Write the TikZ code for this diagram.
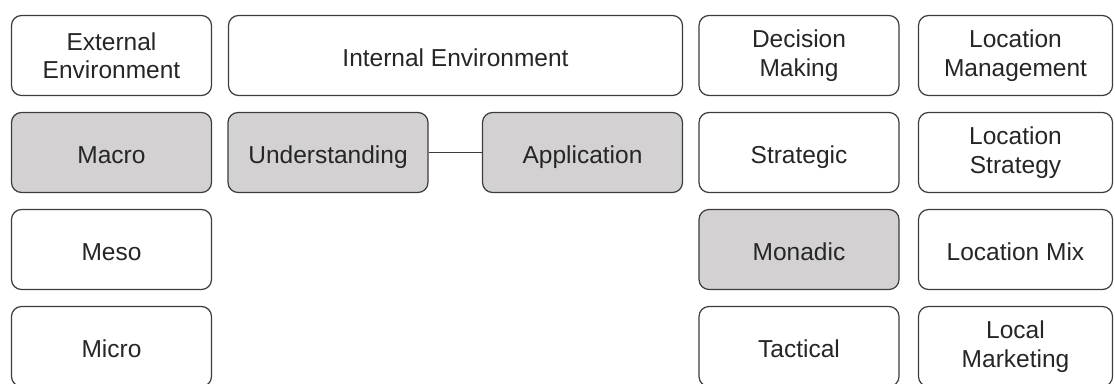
\documentclass[tikz,border=0pt]{standalone}
\usepackage{fontspec}
\setmainfont{Liberation Sans}
\definecolor{cellgray}{RGB}{211,209,209}
\definecolor{edgegray}{RGB}{60,60,60}

\begin{document}
\begin{tikzpicture}[x=1pt,y=-1pt,
  cell/.style={draw=edgegray,line width=1.2pt,rounded corners=10pt,fill=white,
    minimum width=#1,minimum height=80pt,inner sep=0pt,align=center,
    font=\fontsize{24.5}{28.5}\selectfont,text=black!85},
  cell/.default=200pt,
  oneline/.style={text height=21.5pt,text depth=0pt},
  shaded/.style={fill=cellgray}]
\useasboundingbox (0,0) rectangle (1115,383);
% external environment
\node[cell] (ext)   at (111.5,55.5)  {External\\Environment};
\node[cell,oneline,shaded] (macro) at (111.5,152.5) {Macro};
\node[cell,oneline] (meso)  at (111.5,249.5) {Meso};
\node[cell,oneline] (micro) at (111.5,346.5) {Micro};
% internal environment
\node[cell=454pt,oneline] (int) at (455.5,55.5) {Internal Environment};
\node[cell,oneline,shaded] (under) at (328,152.5) {Understanding};
\node[cell,oneline,shaded] (appl)  at (582.5,152.5) {Application};
\draw[edgegray,line width=1.2pt] (under) -- (appl);
% decision making
\node[cell] (dec)   at (799,55.5)  {Decision\\Making};
\node[cell,oneline] (strat) at (799,152.5) {Strategic};
\node[cell,oneline,shaded] (mona) at (799,249.5) {Monadic};
\node[cell,oneline] (tact)  at (799,346.5) {Tactical};
% location management
\node[cell=194pt] (locman) at (1015.5,55.5)  {Location\\Management};
\node[cell=194pt] (locstr) at (1015.5,152.5) {Location\\Strategy};
\node[cell=194pt,oneline] (locmix) at (1015.5,249.5) {Location Mix};
\node[cell=194pt] (locmkt) at (1015.5,346.5) {Local\\Marketing};
\end{tikzpicture}
\end{document}
